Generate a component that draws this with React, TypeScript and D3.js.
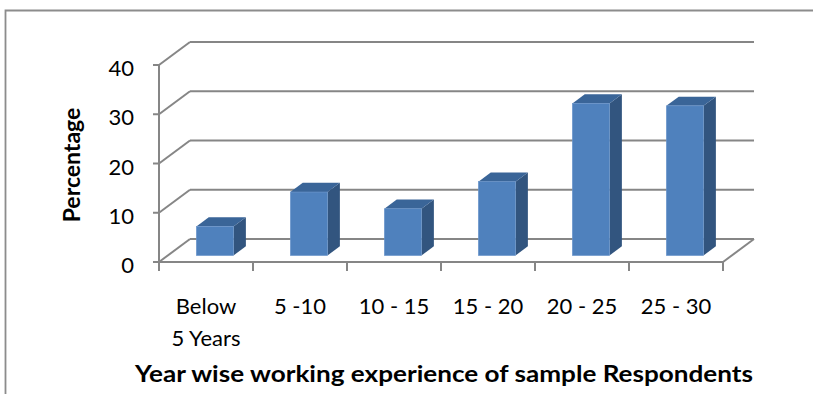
import React from "react";
import * as d3 from "d3";

// Share of respondents by years of working experience
const categories = ["Below\n5 Years", "5 -10", "10 - 15", "15 - 20", "20 - 25", "25 - 30"];
const percentages = [5.9, 12.9, 9.5, 15, 30.9, 30.4];
const yTicks = [0, 10, 20, 30, 40];

const W = 813;
const H = 394;

// Front plane of the 3D plot box
const X0 = 159;
const X1 = 723;
const FLOOR = 262;
const PLOT_H = 197;
// Offset from the front plane to the back wall
const DX = 31;
const DY = 23;

const FONT = "Lato, 'Open Sans', sans-serif";
const GRID = "#868686";

export default function App() {
  const x = d3.scaleBand<string>().domain(categories).range([X0, X1]).paddingInner(0).paddingOuter(0);
  const y = d3.scaleLinear().domain([0, 40]).range([FLOOR, FLOOR - PLOT_H]);

  // bar placement inside its category and along the depth axis
  const barStart = 0.305;
  const barWidth = 0.395;
  const d0 = 0.28;
  const d1 = 0.68;

  const pt = (px: number, py: number) => `${px.toFixed(2)},${py.toFixed(2)}`;

  return (
    <svg
      width={W}
      height={H}
      style={{ position: "absolute", left: 0, top: 0, background: "#fff" }}
      fontFamily={FONT}
    >
      {/* outer frame */}
      <path d={`M5.5,${H} V10.5 H${W}`} fill="none" stroke="#8c8c8c" strokeWidth={1.8} />

      {/* back-wall gridlines and side-wall diagonals */}
      {yTicks.map((t) => (
        <g key={`g${t}`}>
          <line x1={X0 + DX} x2={X1 + DX} y1={y(t) - DY} y2={y(t) - DY} stroke={GRID} strokeWidth={2} />
          <line x1={X0} x2={X0 + DX} y1={y(t)} y2={y(t) - DY} stroke={GRID} strokeWidth={2} />
          <line x1={X0 - 6} x2={X0} y1={y(t)} y2={y(t)} stroke={GRID} strokeWidth={2} />
          <text x={134} y={y(t) + 11} textAnchor="end" fontSize={22} fill="#000">
            {t}
          </text>
        </g>
      ))}

      {/* value axis and floor */}
      <line x1={X0} x2={X0} y1={y(40)} y2={FLOOR + 9} stroke={GRID} strokeWidth={2} />
      <line x1={X0} x2={X1} y1={FLOOR} y2={FLOOR} stroke={GRID} strokeWidth={2} />
      <line x1={X1} x2={X1 + DX} y1={FLOOR} y2={FLOOR - DY} stroke={GRID} strokeWidth={2} />
      {categories.map((c) => (
        <line key={`t${c}`} x1={x(c)!} x2={x(c)!} y1={FLOOR} y2={FLOOR + 9} stroke={GRID} strokeWidth={2} />
      ))}
      <line x1={X1} x2={X1} y1={FLOOR} y2={FLOOR + 9} stroke={GRID} strokeWidth={2} />

      {/* 3D bars */}
      {categories.map((c, i) => {
        const step = x.bandwidth();
        const left = x(c)! + barStart * step + d0 * DX;
        const right = left + barWidth * step;
        const base = FLOOR - d0 * DY;
        const top = base - (FLOOR - y(percentages[i]));
        const ddx = (d1 - d0) * DX;
        const ddy = (d1 - d0) * DY;
        return (
          <g key={`b${c}`}>
            <polygon
              points={[pt(right, base), pt(right + ddx, base - ddy), pt(right + ddx, top - ddy), pt(right, top)].join(" ")}
              fill="#32557f"
            />
            <polygon
              points={[pt(left, top), pt(right, top), pt(right + ddx, top - ddy), pt(left + ddx, top - ddy)].join(" ")}
              fill="#3a6598"
            />
            <rect x={left} y={top} width={right - left} height={base - top} fill="#4f81bd" stroke="#6b96cc" strokeWidth={0.6} />
          </g>
        );
      })}

      {/* category labels */}
      {categories.map((c) => {
        const cx = x(c)! + x.bandwidth() / 2;
        return (
          <text key={`l${c}`} textAnchor="middle" fontSize={22} fill="#000">
            {c.split("\n").map((line, j) => (
              <tspan key={j} x={cx} y={314 + j * 32}>
                {line}
              </tspan>
            ))}
          </text>
        );
      })}

      {/* axis titles */}
      <text
        transform="translate(80,165) rotate(-90)"
        textAnchor="middle"
        fontSize={23}
        fontWeight="bold"
        fill="#000"
      >
        Percentage
      </text>
      <text
        x={444}
        y={382}
        textAnchor="middle"
        fontSize={23.5}
        fontWeight="bold"
        fill="#000"
        textLength={618}
        lengthAdjust="spacingAndGlyphs"
      >
        Year wise working experience of sample Respondents
      </text>
    </svg>
  );
}
